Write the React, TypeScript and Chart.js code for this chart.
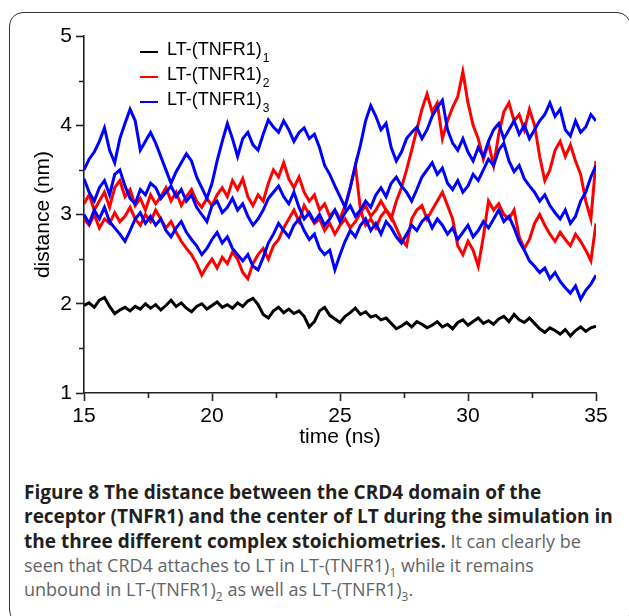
import React, { useEffect, useRef } from "react";
import { Chart, registerables } from "chart.js";

Chart.register(...registerables);

// ---- data (distance in nm, sampled every 0.2 ns from 15 ns to 35 ns) ----
const TIME_START = 15;
const TIME_STEP = 0.2;

const X_TICKS = [15, 20, 25, 30, 35];
const X_MINOR = [17.5, 22.5, 27.5, 32.5];
const Y_TICKS = [1, 2, 3, 4, 5];
const Y_MINOR = [1.5, 2.5, 3.5, 4.5];

// LT-(TNFR1)1, one receptor
const lt1 = [
  1.98, 2.01, 1.96, 2.04, 2.07, 1.97, 1.89, 1.93, 1.96, 1.92,
  1.97, 1.94, 2.0, 1.95, 1.99, 1.93, 1.98, 2.04, 1.97, 2.01,
  1.95, 1.91, 1.97, 2.0, 1.94, 1.98, 2.02, 1.96, 1.99, 1.95,
  2.01, 1.97, 2.03, 2.06, 1.99, 1.88, 1.84, 1.92, 1.96, 1.9,
  1.94, 1.89, 1.92, 1.86, 1.74, 1.8, 1.92, 1.96, 1.87, 1.83,
  1.79, 1.86, 1.9, 1.95, 1.88, 1.91, 1.85, 1.87, 1.82, 1.84,
  1.78, 1.72, 1.75, 1.79, 1.74, 1.8, 1.77, 1.73, 1.76, 1.8,
  1.74, 1.77, 1.72, 1.79, 1.82, 1.76, 1.8, 1.84, 1.78, 1.81,
  1.77, 1.83, 1.86, 1.8, 1.88, 1.82, 1.79, 1.84, 1.78, 1.72,
  1.68, 1.73, 1.7, 1.66, 1.71, 1.64, 1.7, 1.74, 1.69, 1.73,
  1.75,
];

// LT-(TNFR1)2, two receptors
const lt2a = [
  3.12, 3.22, 3.05, 3.15, 3.25, 3.08, 3.3, 3.38, 3.2, 3.28,
  3.1, 3.18, 3.05, 3.22, 3.12, 3.2, 3.3, 3.15, 3.25, 3.1,
  3.2, 3.28, 3.15, 3.08, 3.18, 3.1, 3.22, 3.3, 3.2, 3.38,
  3.28, 3.4, 3.2, 3.1, 3.22, 3.15, 3.35, 3.5, 3.42, 3.58,
  3.4, 3.3, 3.42, 3.25, 3.15, 3.22, 3.05, 3.12, 2.98, 3.05,
  2.95, 3.1, 3.3, 3.55, 3.05, 2.88, 2.95, 2.85, 2.98, 3.05,
  2.95, 3.15, 3.3, 3.5, 3.72, 3.95, 4.18, 4.35, 4.15, 4.25,
  3.85, 4.05, 4.2, 4.32, 4.6, 4.25, 4.0, 3.85, 3.62, 3.8,
  3.55, 3.9, 4.15, 4.25, 4.05, 4.12, 3.95, 4.18, 4.0, 3.65,
  3.38, 3.5, 3.72, 3.82, 3.65, 3.78, 3.6, 3.45, 3.15, 2.95,
  3.6,
];
const lt2b = [
  2.95, 2.88, 3.0, 2.85, 2.95, 2.9, 3.02, 2.92, 2.98, 3.08,
  2.95, 2.88, 3.0, 2.92, 3.05, 2.95, 2.85, 2.92, 2.8, 2.7,
  2.62, 2.55, 2.45, 2.32, 2.42, 2.5, 2.4, 2.52, 2.45, 2.58,
  2.5, 2.35, 2.28, 2.45, 2.55, 2.62, 2.5, 2.65, 2.72, 2.85,
  2.95, 3.05, 2.92, 3.1, 3.0, 2.9, 2.95, 2.82, 2.9, 2.78,
  2.88, 2.95, 2.85, 2.92, 3.02, 3.1, 2.98, 3.05, 3.15, 3.05,
  2.98, 2.85, 2.72, 2.65, 2.95, 3.05, 3.1, 2.95, 3.05, 3.15,
  3.25, 3.1, 2.95, 2.65, 2.55, 2.7, 2.6, 2.42, 2.75, 3.15,
  3.05, 3.12, 3.0, 2.95, 3.05, 2.75, 2.62, 2.72, 2.9, 3.0,
  2.88, 2.78, 2.7, 2.8, 2.72, 2.65, 2.78, 2.7, 2.6, 2.48,
  2.9,
];

// LT-(TNFR1)3, three receptors
const lt3a = [
  3.5, 3.62, 3.7, 3.82, 3.97, 3.72, 3.58, 3.85, 4.02, 4.18,
  4.05, 3.72, 3.82, 3.92, 3.8, 3.65, 3.5, 3.35, 3.48, 3.58,
  3.68, 3.6, 3.42, 3.3, 3.18, 3.35, 3.6, 3.82, 4.02, 3.85,
  3.65, 3.85, 3.92, 3.78, 3.72, 3.9, 4.06, 3.98, 3.92, 4.05,
  3.95, 3.82, 3.92, 3.97, 3.85, 3.9, 3.75, 3.55, 3.45, 3.32,
  3.2, 3.08, 3.3, 3.55, 3.78, 4.05, 4.22, 4.1, 3.95, 4.02,
  3.75, 3.6, 3.7, 3.85, 3.92, 3.98, 3.85, 3.95, 4.1, 4.2,
  4.28, 3.95, 3.8, 3.72, 3.85, 3.7, 3.6, 3.75, 3.65, 3.82,
  3.95, 4.02, 3.85, 3.95, 4.05, 3.9, 4.0, 3.85, 3.95, 4.05,
  4.12, 4.25, 4.1, 4.18, 3.95, 3.88, 4.05, 3.92, 3.98, 4.12,
  4.05,
];
const lt3b = [
  3.4, 3.25, 3.15, 3.3, 3.38, 3.22, 3.45, 3.5, 3.32, 3.18,
  3.12, 3.28, 3.22, 3.35, 3.3, 3.18, 3.25, 3.32, 3.2, 3.28,
  3.15, 3.22, 3.08, 3.0, 2.92, 3.1, 3.15, 3.02, 3.08, 3.18,
  3.05, 3.12, 2.98, 2.88, 2.95, 3.05, 3.18, 3.25, 3.32, 3.2,
  3.12, 3.25, 3.08, 2.95, 3.02, 2.92, 3.0, 2.88, 2.95, 3.05,
  2.92, 3.02, 3.1, 2.98, 3.05, 3.15, 3.08, 3.22, 3.3, 3.2,
  3.35, 3.42, 3.32, 3.25, 3.15, 3.28, 3.42, 3.5, 3.58, 3.45,
  3.52, 3.35, 3.28, 3.38, 3.25, 3.32, 3.45, 3.38, 3.5, 3.62,
  3.55, 3.72, 3.8, 3.6, 3.48, 3.55, 3.4, 3.32, 3.25, 3.15,
  3.22, 3.1, 3.02, 2.95, 3.05, 2.9, 2.98, 3.15, 3.25, 3.42,
  3.55,
];
const lt3c = [
  3.0, 2.9, 3.05, 2.95, 3.08, 2.92, 2.85, 2.78, 2.7, 2.82,
  2.95, 3.02, 2.9, 2.98, 2.88, 2.95, 2.82, 2.75, 2.85, 2.92,
  2.8, 2.72, 2.65, 2.55, 2.62, 2.72, 2.8, 2.68, 2.75, 2.62,
  2.55, 2.48, 2.55, 2.42, 2.38, 2.52, 2.68, 2.78, 2.9, 2.82,
  2.75, 2.88, 2.95, 2.82, 2.72, 2.78, 2.62, 2.55, 2.6, 2.38,
  2.55, 2.7, 2.82, 2.75, 2.88, 2.95, 2.82, 2.9, 2.78, 2.92,
  2.85, 2.75, 2.68, 2.78, 2.88, 2.82, 2.92, 2.98, 2.85, 2.95,
  2.88, 2.78, 2.85, 2.72, 2.8, 2.88, 2.75, 2.82, 2.92, 2.85,
  2.95, 3.05, 2.92, 2.98, 2.85, 2.7, 2.6, 2.48, 2.42, 2.35,
  2.4, 2.28, 2.35, 2.25, 2.18, 2.12, 2.2, 2.05, 2.15, 2.22,
  2.32,
];

const BLACK = "#000000";
const RED = "#ff0000";
const BLUE = "#0000ff";

// drawing order: first dataset ends on top
const SERIES = [
  { values: lt3a, color: BLUE },
  { values: lt3b, color: BLUE },
  { values: lt3c, color: BLUE },
  { values: lt2a, color: RED },
  { values: lt2b, color: RED },
  { values: lt1, color: BLACK },
];

const LEGEND = [
  { label: "LT-(TNFR1)", sub: "1", color: BLACK },
  { label: "LT-(TNFR1)", sub: "2", color: RED },
  { label: "LT-(TNFR1)", sub: "3", color: BLUE },
];

const AXIS_COLOR = "#222222";
const AXIS_WIDTH = 1.6;
const FONT = "'Liberation Sans', Arial, Helvetica, sans-serif";

const minorTicks = {
  id: "minorTicks",
  afterDraw(chart: any) {
    const { ctx } = chart;
    const xs = chart.scales.x;
    const ys = chart.scales.y;
    ctx.save();
    ctx.strokeStyle = AXIS_COLOR;
    ctx.lineWidth = AXIS_WIDTH;
    ctx.beginPath();
    X_MINOR.forEach((v) => {
      const px = Math.round(xs.getPixelForValue(v)) + 0.5;
      ctx.moveTo(px, xs.top);
      ctx.lineTo(px, xs.top + 5);
    });
    Y_MINOR.forEach((v) => {
      const py = Math.round(ys.getPixelForValue(v)) + 0.5;
      ctx.moveTo(ys.right, py);
      ctx.lineTo(ys.right - 5, py);
    });
    ctx.stroke();
    ctx.restore();
  },
};

export default function App() {
  const ref = useRef<HTMLCanvasElement | null>(null);

  useEffect(() => {
    if (!ref.current) return;
    const datasets = SERIES.map((s) => ({
      data: s.values.map((v, i) => ({ x: TIME_START + i * TIME_STEP, y: v })),
      borderColor: s.color,
      backgroundColor: s.color,
      borderWidth: 3,
      pointRadius: 0,
      tension: 0,
      fill: false,
    }));
    const chart = new Chart(ref.current, {
      type: "line",
      data: { datasets },
      plugins: [minorTicks],
      options: {
        animation: false,
        responsive: false,
        devicePixelRatio: 1,
        layout: { padding: { left: 0, top: 36, right: 33, bottom: 0 } },
        plugins: { legend: { display: false }, tooltip: { enabled: false } },
        scales: {
          x: {
            type: "linear",
            min: 15,
            max: 35,
            afterBuildTicks: (s: any) => {
              s.ticks = X_TICKS.map((v) => ({ value: v }));
            },
            afterFit: (s: any) => {
              s.height = 67;
            },
            ticks: {
              font: { family: FONT, size: 21 },
              color: "#000",
              padding: 3,
              maxRotation: 0,
              autoSkip: false,
            },
            grid: {
              drawOnChartArea: false,
              drawTicks: true,
              tickLength: 8,
              tickColor: AXIS_COLOR,
              tickWidth: AXIS_WIDTH,
            },
            border: { display: true, color: AXIS_COLOR, width: AXIS_WIDTH },
            title: {
              display: true,
              text: "time (ns)",
              color: "#000",
              font: { family: FONT, size: 21 },
              padding: { top: 0, bottom: 10 },
            },
          },
          y: {
            type: "linear",
            min: 1,
            max: 5,
            afterBuildTicks: (s: any) => {
              s.ticks = Y_TICKS.map((v) => ({ value: v }));
            },
            afterFit: (s: any) => {
              s.width = 84;
            },
            ticks: {
              font: { family: FONT, size: 21 },
              color: "#000",
              padding: 4,
            },
            grid: {
              drawOnChartArea: false,
              drawTicks: true,
              tickLength: 8,
              tickColor: AXIS_COLOR,
              tickWidth: AXIS_WIDTH,
            },
            border: { display: true, color: AXIS_COLOR, width: AXIS_WIDTH },
            title: {
              display: true,
              text: "distance (nm)",
              color: "#000",
              font: { family: FONT, size: 21 },
              padding: { top: 31, bottom: 0 },
            },
          },
        },
      },
    } as any);
    return () => chart.destroy();
  }, []);

  const boldStyle = { color: "#231f20", fontSize: 19, fontWeight: 700 };
  const subStyle = { fontSize: 12, lineHeight: 0 };

  return (
    <div
      style={{
        position: "absolute",
        left: 0,
        top: 0,
        width: 629,
        height: 616,
        overflow: "hidden",
        background: "#ffffff",
      }}
    >
      <div
        style={{
          position: "absolute",
          left: 9,
          top: 12,
          width: 622,
          height: 612,
          boxSizing: "border-box",
          border: "1.5px solid #333",
          borderRadius: 14,
        }}
      />
      <canvas
        ref={ref}
        width={629}
        height={460}
        style={{ position: "absolute", left: 0, top: 0, width: 629, height: 460 }}
      />
      {LEGEND.map((e, i) => (
        <div
          key={i}
          style={{
            position: "absolute",
            left: 140,
            top: 37.7 + i * 25,
            height: 22,
            fontFamily: FONT,
            fontSize: 18,
            lineHeight: "22px",
            color: "#000",
            whiteSpace: "nowrap",
          }}
        >
          <span
            style={{
              position: "absolute",
              left: 0,
              top: 13,
              width: 18,
              height: 2,
              background: e.color,
            }}
          />
          <span style={{ marginLeft: 27 }}>{e.label}</span>
          <span style={{ fontSize: 12, position: "relative", top: 7, marginLeft: 1 }}>{e.sub}</span>
        </div>
      ))}
      <div
        style={{
          position: "absolute",
          left: 24,
          top: 480,
          fontFamily: "'Open Sans', sans-serif",
          fontSize: 18,
          lineHeight: "24.3px",
          color: "#636466",
          whiteSpace: "nowrap",
        }}
      >
        <div>
          <span style={boldStyle}>Figure 8 The distance between the CRD4 domain of the</span>
        </div>
        <div>
          <span style={boldStyle}>receptor (TNFR1) and the center of LT during the simulation in</span>
        </div>
        <div>
          <span style={boldStyle}>the three different complex stoichiometries.</span> It can clearly be
        </div>
        <div>
          seen that CRD4 attaches to LT in LT-(TNFR1)<sub style={subStyle}>1</sub> while it remains
        </div>
        <div>
          unbound in LT-(TNFR1)<sub style={subStyle}>2</sub> as well as LT-(TNFR1)<sub style={subStyle}>3</sub>.
        </div>
      </div>
    </div>
  );
}
